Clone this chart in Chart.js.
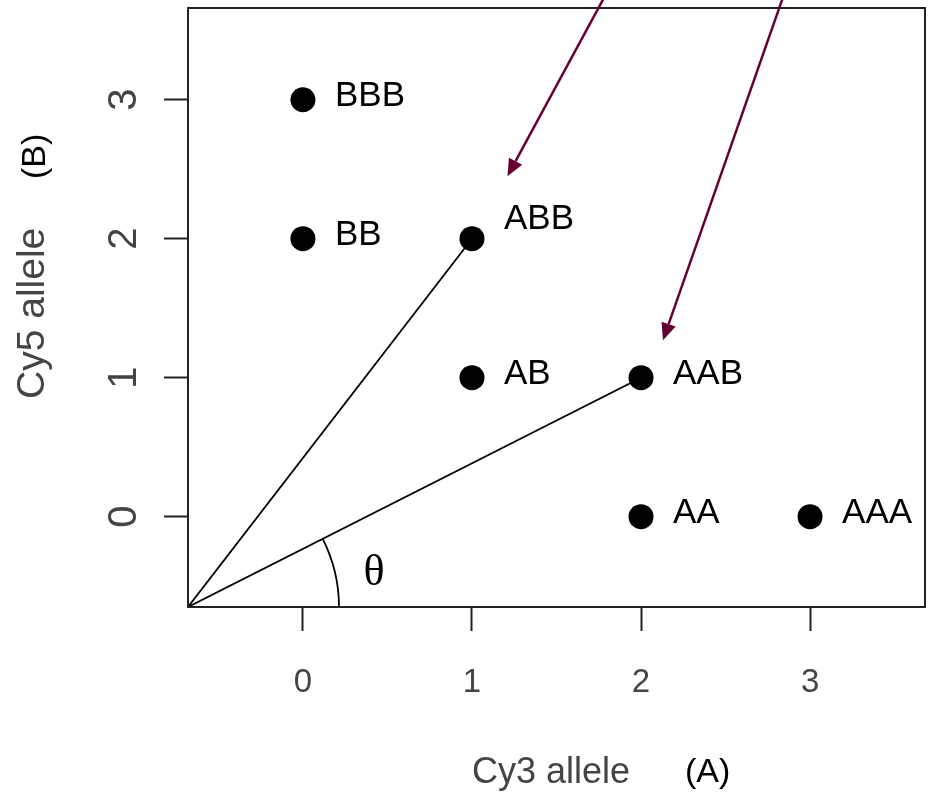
<!DOCTYPE html>
<html>
<head>
<meta charset="utf-8">
<script src="https://cdn.jsdelivr.net/npm/chart.js@4/dist/chart.umd.min.js"></script>
<style>
    body { margin: 0; background: #ffffff; }
</style>
</head>
<body>
<canvas id="grafico" width="932" height="800"></canvas>
<script>
// genotipos e numero de alelos
const genotipos = ['BBB', 'BB', 'ABB', 'AB', 'AAB', 'AA', 'AAA'];
const alelosCy3 = [0, 0, 1, 1, 2, 2, 3];
const alelosCy5 = [3, 2, 2, 1, 1, 0, 0];

const ticksX = [0, 1, 2, 3];
const ticksY = [0, 1, 2, 3];

// limites dos eixos
const limiteX = [-0.68, 3.68];
const limiteY = [-0.65, 3.66];

// retas que saem da origem ate esses genotipos
const retas = ['ABB', 'AAB'];

// setas (inicio -> ponta) em unidades dos eixos
const setas = [
    { de: [1.775, 3.72], para: [1.21, 2.45] },
    { de: [2.835, 3.72], para: [2.13, 1.27] },
];

const fonte = '"Liberation Sans", Arial, sans-serif';

let pontos = [];
for (let i = 0; i < genotipos.length; i++) {
    pontos.push({ x: alelosCy3[i], y: alelosCy5[i], nome: genotipos[i] });
}

let datasets = [{
    type: 'scatter',
    data: pontos,
    backgroundColor: '#000000',
    borderWidth: 0,
    pointRadius: 12.5,
    pointHoverRadius: 12.5,
    order: 0
}];

for (let i = 0; i < retas.length; i++) {
    let k = genotipos.indexOf(retas[i]);
    datasets.push({
        type: 'line',
        data: [{ x: limiteX[0], y: limiteY[0] }, { x: alelosCy3[k], y: alelosCy5[k] }],
        borderColor: '#000000',
        borderWidth: 1.8,
        pointRadius: 0,
        fill: false,
        order: 1
    });
}

const anotacoes = {
    id: 'anotacoes',
    afterDatasetsDraw(chart) {
        let ctx = chart.ctx;
        let sx = chart.scales.x;
        let sy = chart.scales.y;
        let area = chart.chartArea;

        ctx.save();

        // caixa completa
        ctx.strokeStyle = '#222222';
        ctx.lineWidth = 2;
        ctx.strokeRect(area.left, area.top, area.right - area.left, area.bottom - area.top);

        // nomes dos genotipos
        ctx.fillStyle = '#000000';
        ctx.font = '35px ' + fonte;
        ctx.textAlign = 'left';
        ctx.textBaseline = 'middle';
        for (let i = 0; i < pontos.length; i++) {
            let px = sx.getPixelForValue(pontos[i].x);
            let py = sy.getPixelForValue(pontos[i].y);
            let dy = pontos[i].nome == 'ABB' ? -19 : -3;
            ctx.fillText(pontos[i].nome, px + 32, py + dy);
        }

        // arco do angulo theta
        let ox = sx.getPixelForValue(limiteX[0]);
        let oy = sy.getPixelForValue(limiteY[0]);
        let k = genotipos.indexOf('AAB');
        let ang = Math.atan2(oy - sy.getPixelForValue(alelosCy5[k]), sx.getPixelForValue(alelosCy3[k]) - ox);
        ctx.strokeStyle = '#000000';
        ctx.lineWidth = 1.8;
        ctx.beginPath();
        ctx.arc(ox, oy, 151, -ang, 0);
        ctx.stroke();

        ctx.font = '44px "Liberation Serif", "Times New Roman", serif';
        ctx.textAlign = 'center';
        ctx.fillText('\u03b8', ox + 186, oy - 34);

        // setas
        ctx.strokeStyle = '#660033';
        ctx.fillStyle = '#660033';
        ctx.lineWidth = 2.5;
        for (let i = 0; i < setas.length; i++) {
            let x1 = sx.getPixelForValue(setas[i].de[0]);
            let y1 = sy.getPixelForValue(setas[i].de[1]);
            let x2 = sx.getPixelForValue(setas[i].para[0]);
            let y2 = sy.getPixelForValue(setas[i].para[1]);
            let a = Math.atan2(y2 - y1, x2 - x1);
            let tam = 17;
            let larg = 7.5;
            let bx = x2 - tam * Math.cos(a);
            let by = y2 - tam * Math.sin(a);
            ctx.beginPath();
            ctx.moveTo(x1, y1);
            ctx.lineTo(bx, by);
            ctx.stroke();
            ctx.beginPath();
            ctx.moveTo(x2, y2);
            ctx.lineTo(bx + larg * Math.sin(a), by - larg * Math.cos(a));
            ctx.lineTo(bx - larg * Math.sin(a), by + larg * Math.cos(a));
            ctx.closePath();
            ctx.fill();
        }

        // titulos dos eixos
        ctx.textAlign = 'left';
        ctx.textBaseline = 'middle';
        ctx.fillStyle = '#444444';
        ctx.font = '36px ' + fonte;
        ctx.fillText('Cy3 allele', 472, area.bottom + 166);
        ctx.fillStyle = '#000000';
        ctx.font = '34px ' + fonte;
        ctx.fillText('(A)', 685, area.bottom + 166);

        ctx.translate(33, 0);
        ctx.rotate(-Math.PI / 2);
        ctx.fillStyle = '#444444';
        ctx.font = '39px ' + fonte;
        ctx.fillText('Cy5 allele', -399, 0);
        ctx.fillStyle = '#000000';
        ctx.font = '34px ' + fonte;
        ctx.fillText('(B)', -179, 3);

        ctx.restore();
    }
};

let config = {
    data: { datasets: datasets },
    options: {
        responsive: false,
        devicePixelRatio: 1,
        animation: false,
        layout: {
            autoPadding: false,
            padding: { top: 8, right: 7, left: 0, bottom: 0 }
        },
        plugins: {
            legend: { display: false },
            tooltip: { enabled: false }
        },
        scales: {
            x: {
                type: 'linear',
                position: 'bottom',
                min: limiteX[0],
                max: limiteX[1],
                afterBuildTicks: function (scale) {
                    scale.ticks = ticksX.map(v => ({ value: v }));
                },
                afterFit: function (scale) {
                    scale.height = 193;
                    scale.paddingLeft = 0;
                    scale.paddingRight = 0;
                },
                ticks: {
                    color: '#444444',
                    font: { family: fonte, size: 33 },
                    padding: 32,
                    maxRotation: 0
                },
                grid: {
                    drawOnChartArea: false,
                    drawTicks: true,
                    tickLength: 24,
                    tickColor: '#222222',
                    tickWidth: 2
                },
                border: { display: true, color: '#222222', width: 2 }
            },
            y: {
                type: 'linear',
                position: 'left',
                min: limiteY[0],
                max: limiteY[1],
                afterBuildTicks: function (scale) {
                    scale.ticks = ticksY.map(v => ({ value: v }));
                },
                afterFit: function (scale) {
                    scale.width = 188;
                    scale.paddingTop = 0;
                    scale.paddingBottom = 0;
                },
                ticks: {
                    color: '#444444',
                    font: { family: fonte, size: 40 },
                    padding: 28,
                    minRotation: 90,
                    maxRotation: 90,
                    crossAlign: 'center'
                },
                grid: {
                    drawOnChartArea: false,
                    drawTicks: true,
                    tickLength: 24,
                    tickColor: '#222222',
                    tickWidth: 2
                },
                border: { display: true, color: '#222222', width: 2 }
            }
        }
    },
    plugins: [anotacoes]
};

let meuGrafico = new Chart(document.getElementById('grafico'), config);
</script>
</body>
</html>
